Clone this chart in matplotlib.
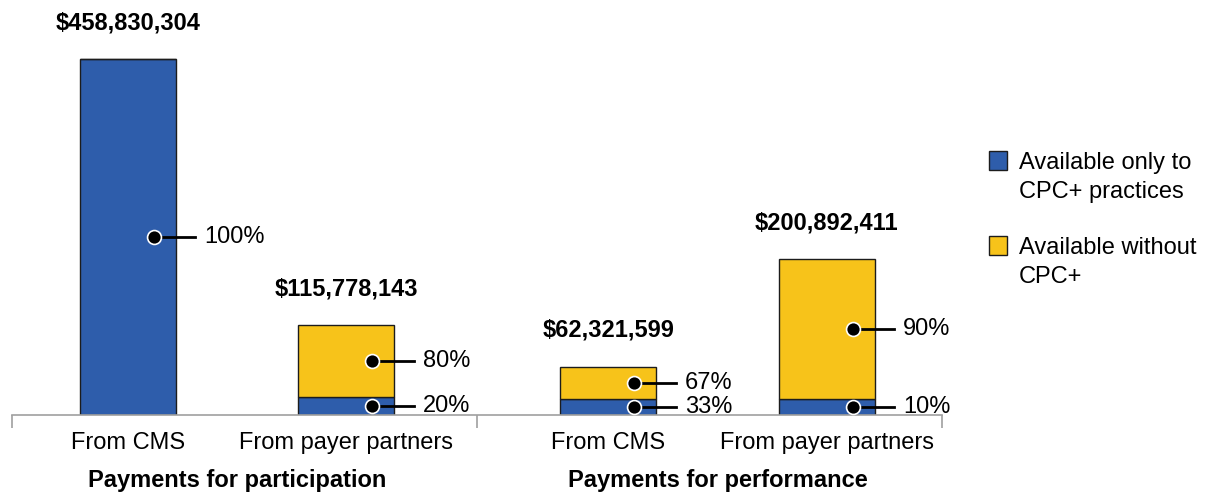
import matplotlib.pyplot as plt
from matplotlib.patches import Rectangle
from matplotlib.transforms import blended_transform_factory

plt.rcParams['font.family'] = ['Liberation Sans', 'DejaVu Sans']

# data
categories = ['From CMS', 'From payer partners', 'From CMS', 'From payer partners']
groups = ['Payments for participation', 'Payments for performance']
totals = [458830304, 115778143, 62321599, 200892411]
share_only = [100, 20, 33, 10]      # available only to CPC+ practices (%)
share_without = [0, 80, 67, 90]     # available without CPC+ (%)
series_names = ['Available only to\nCPC+ practices', 'Available without\nCPC+']

blue = '#2E5DAB'
yellow = '#F7C31A'
x = [0, 1, 2.2, 3.2]
w = 0.44
fs = 17

fig = plt.figure(figsize=(12.05, 4.94), dpi=100)
ax = fig.add_axes([0.01, 0.16, 0.772, 0.84])

tot_m = [t / 1e6 for t in totals]
low = [t * s / 100 for t, s in zip(tot_m, share_only)]
high = [t * s / 100 for t, s in zip(tot_m, share_without)]

ax.bar(x, low, width=w, color=blue, edgecolor='#1c1c1c', linewidth=1, zorder=2)
ax.bar(x, high, width=w, bottom=low, color=yellow, edgecolor='#1c1c1c', linewidth=1, zorder=2)

# totals above bars
for xi, t, tm in zip(x, totals, tot_m):
    ax.annotate('${:,}'.format(t), (xi, tm), xytext=(0, 18), textcoords='offset points',
                ha='center', va='bottom', fontsize=fs, fontweight='bold')

# percentage callouts
def callout(xi, ymid, pct):
    ax.plot([xi + 0.12, xi + 0.31], [ymid, ymid], color='black', lw=2, zorder=3)
    ax.plot(xi + 0.12, ymid, 'o', ms=10, mfc='black', mec='white', mew=1.2, zorder=4)
    ax.text(xi + 0.35, ymid, '%d%%' % pct, va='center', ha='left', fontsize=fs)

for xi, lo, hi, so, sw in zip(x, low, high, share_only, share_without):
    if so > 0:
        callout(xi, lo / 2, so)
    if sw > 0:
        callout(xi, lo + hi / 2, sw)

ax.set_xlim(-0.53, 3.73)
ax.set_ylim(0, 535)
for s in ['top', 'left', 'right']:
    ax.spines[s].set_visible(False)
ax.spines['bottom'].set_color('#a0a0a0')
ax.spines['bottom'].set_linewidth(1.2)
ax.set_yticks([])
ax.set_xticks(x)
ax.set_xticklabels(categories, fontsize=fs)
ax.tick_params(axis='x', which='major', length=0, pad=12)
ax.set_xticks([-0.53, 1.6, 3.73], minor=True)
ax.tick_params(axis='x', which='minor', length=9, width=1.2, color='#a0a0a0')

trans = blended_transform_factory(ax.transData, ax.transAxes)
ax.text((x[0] + x[1]) / 2, -0.157, groups[0], transform=trans, ha='center', va='center',
        fontsize=fs, fontweight='bold')
ax.text((x[2] + x[3]) / 2, -0.157, groups[1], transform=trans, ha='center', va='center',
        fontsize=fs, fontweight='bold')

# legend, square aligned with first line of each label
W, H = 1205.0, 494.0
for i, (col, name) in enumerate(zip([blue, yellow], series_names)):
    top = 151 + i * 85
    fig.add_artist(Rectangle((989 / W, 1 - (top + 19) / H), 18 / W, 19 / H,
                             facecolor=col, edgecolor='#1c1c1c', linewidth=1,
                             transform=fig.transFigure))
    fig.text(1019 / W, 1 - (top + 1) / H, name, ha='left', va='top', fontsize=fs,
             linespacing=1.4)

fig.savefig('out.png', dpi=100)
